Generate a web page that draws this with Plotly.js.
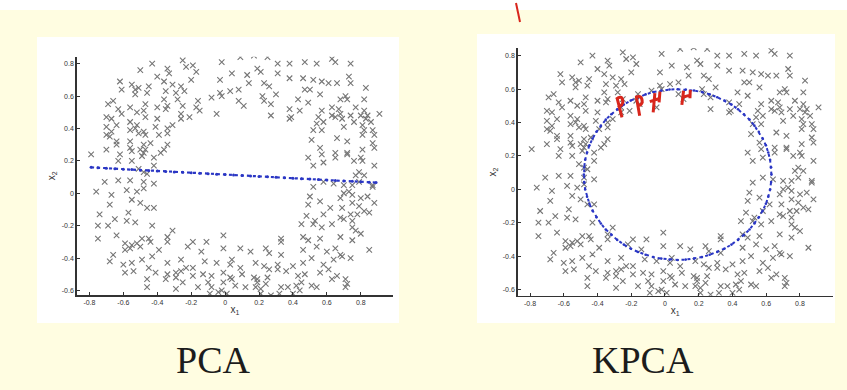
<!DOCTYPE html>
<html>
<head>
<meta charset="utf-8">
<script src="https://cdn.plot.ly/plotly-3.0.1.min.js"></script>
<style>html,body{margin:0;padding:0;background:#FFFDE1;}#chart{width:847px;height:390px;}</style>
</head>
<body>
<div id="chart"></div>
<script>
// Gray "x" data points (same data set in both panels)
const grayX = [
0.09,0.17,0.25,0.63,0.65,-0.25,-0.02,0.31,0.38,0.47,
0.54,0.74,-0.43,-0.19,-0.23,0.19,0.21,-0.34,-0.33,-0.17,
-0.50,0.31,0.04,0.13,0.73,-0.40,-0.36,-0.20,-0.03,0.38,
0.46,0.52,0.57,0.61,-0.62,-0.55,-0.45,-0.31,-0.26,-0.61,
-0.53,-0.51,0.14,0.23,0.26,0.47,0.50,0.66,0.74,0.83,
-0.53,-0.46,-0.35,-0.29,-0.24,-0.03,0.03,0.08,0.30,0.43,
0.56,0.72,0.82,-0.36,-0.28,-0.16,-0.08,-0.02,0.08,0.23,
0.27,0.49,0.68,0.71,-0.69,-0.66,-0.63,-0.56,-0.47,-0.40,
-0.34,-0.25,-0.17,0.11,0.22,0.38,0.44,0.57,0.63,0.67,
0.77,0.82,-0.70,-0.61,-0.67,-0.52,-0.48,-0.35,-0.21,-0.26,
-0.15,-0.05,0.27,0.39,0.55,0.63,0.68,0.74,0.80,0.91,
-0.70,-0.64,-0.56,-0.53,-0.47,-0.40,-0.31,-0.26,0.38,0.54,
0.58,0.65,0.69,0.76,0.83,0.84,0.86,-0.67,-0.68,-0.56,
-0.52,-0.48,-0.41,-0.34,0.52,0.57,0.70,0.81,0.87,0.82,
-0.70,-0.64,-0.56,-0.51,-0.47,-0.39,-0.34,0.51,0.66,0.72,
0.81,0.88,0.87,-0.64,-0.56,-0.50,-0.48,-0.44,-0.36,-0.34,
0.56,0.65,0.72,0.81,-0.79,-0.70,-0.62,-0.55,-0.48,-0.47,
-0.38,0.49,0.57,0.65,0.72,0.80,0.88,-0.63,-0.55,-0.49,
-0.42,0.52,0.58,0.76,0.81,0.88,-0.51,-0.42,-0.48,-0.46,
0.79,0.77,0.58,0.64,0.70,0.75,0.87,0.82,0.79,-0.71,
-0.63,-0.56,-0.48,-0.42,-0.76,-0.67,-0.58,-0.52,-0.48,0.75,
0.80,0.84,0.87,0.52,0.50,0.70,0.68,0.73,-0.68,-0.55,
-0.50,-0.46,-0.42,-0.57,-0.74,-0.75,-0.69,-0.65,-0.58,-0.53,
-0.43,-0.31,0.49,0.56,0.62,0.69,0.75,0.79,0.88,0.85,
0.74,0.78,0.82,0.68,0.75,0.58,0.48,0.53,-0.75,-0.64,
-0.59,-0.56,-0.52,-0.49,-0.45,-0.34,0.45,0.52,0.57,0.63,
0.70,0.75,0.80,0.68,0.75,0.77,0.56,0.46,0.49,-0.66,
-0.59,-0.55,-0.50,-0.44,-0.39,-0.34,-0.22,-0.19,-0.11,-0.14,
-0.01,-0.01,0.04,0.09,0.15,0.24,0.26,0.33,0.33,0.33,
0.46,0.54,0.60,0.65,0.69,0.74,0.85,-0.68,-0.60,-0.55,
-0.49,-0.43,-0.34,-0.26,-0.19,-0.12,-0.05,0.03,0.09,0.18,
0.23,0.26,0.31,0.40,0.46,0.51,0.58,0.64,0.68,-0.59,
-0.54,-0.45,-0.41,-0.34,-0.29,-0.26,-0.23,-0.19,-0.13,-0.08,
-0.01,0.03,0.10,0.17,0.19,0.25,0.31,0.36,0.43,0.47,
0.56,0.61,0.66,0.71,0.72,-0.46,-0.35,-0.29,-0.25,-0.10,
-0.01,0.04,0.19,0.24,0.45,-0.46,-0.29,-0.16,-0.08,-0.02,
0.06,0.12,0.18,0.21,0.33,0.37,0.42,0.51,0.54,0.63,
0.71,-0.09,-0.04,0.01,0.21,0.27,0.32,0.40,0.44
];
const grayY = [
0.84,0.85,0.84,0.83,0.81,0.82,0.81,0.80,0.80,0.81,
0.80,0.80,0.80,0.79,0.78,0.77,0.75,0.77,0.74,0.75,
0.76,0.74,0.74,0.73,0.72,0.72,0.69,0.70,0.70,0.71,
0.71,0.70,0.69,0.68,0.69,0.67,0.66,0.67,0.66,0.64,
0.64,0.65,0.68,0.68,0.66,0.64,0.64,0.68,0.68,0.65,
0.61,0.62,0.63,0.62,0.63,0.62,0.63,0.64,0.61,0.58,
0.61,0.58,0.58,0.58,0.58,0.57,0.59,0.60,0.57,0.57,
0.55,0.56,0.58,0.60,0.55,0.57,0.52,0.53,0.55,0.53,
0.54,0.54,0.53,0.54,0.60,0.52,0.51,0.51,0.53,0.52,
0.53,0.51,0.47,0.49,0.46,0.50,0.51,0.52,0.47,0.49,
0.51,0.49,0.48,0.47,0.47,0.48,0.49,0.48,0.48,0.49,
0.41,0.42,0.44,0.40,0.47,0.46,0.42,0.46,0.46,0.43,
0.44,0.47,0.46,0.44,0.46,0.48,0.44,0.38,0.35,0.39,
0.42,0.38,0.41,0.40,0.39,0.39,0.41,0.42,0.39,0.39,
0.36,0.32,0.32,0.37,0.36,0.36,0.37,0.33,0.34,0.32,
0.36,0.36,0.31,0.30,0.28,0.27,0.30,0.31,0.27,0.30,
0.28,0.25,0.25,0.27,0.24,0.27,0.24,0.26,0.25,0.27,
0.25,0.22,0.24,0.22,0.24,0.22,0.28,0.20,0.20,0.23,
0.22,0.17,0.19,0.20,0.20,0.17,0.15,0.17,0.13,0.12,
0.13,0.11,0.07,0.06,0.05,0.05,0.05,0.11,0.07,0.07,
0.08,0.08,0.07,0.06,0.01,-0.01,0.02,0.01,0.03,-0.01,
-0.03,-0.02,0.04,0.04,-0.02,0.00,-0.03,0.01,-0.07,-0.04,
-0.06,-0.09,-0.09,-0.12,-0.13,-0.20,-0.20,-0.16,-0.17,-0.18,
-0.20,-0.23,-0.07,-0.05,-0.09,-0.09,-0.06,-0.08,-0.06,-0.12,
-0.13,-0.13,-0.11,-0.15,-0.17,-0.13,-0.14,-0.17,-0.28,-0.26,
-0.31,-0.34,-0.31,-0.28,-0.28,-0.27,-0.19,-0.19,-0.21,-0.19,
-0.16,-0.21,-0.25,-0.27,-0.29,-0.23,-0.28,-0.27,-0.29,-0.38,
-0.35,-0.32,-0.33,-0.30,-0.35,-0.30,-0.33,-0.30,-0.30,-0.36,
-0.26,-0.34,-0.41,-0.34,-0.36,-0.34,-0.37,-0.28,-0.30,-0.38,
-0.35,-0.33,-0.36,-0.34,-0.39,-0.40,-0.35,-0.42,-0.44,-0.43,
-0.41,-0.39,-0.43,-0.41,-0.46,-0.42,-0.43,-0.44,-0.46,-0.43,
-0.45,-0.47,-0.44,-0.45,-0.43,-0.40,-0.44,-0.41,-0.38,-0.49,
-0.48,-0.46,-0.49,-0.50,-0.49,-0.48,-0.46,-0.51,-0.50,-0.51,
-0.49,-0.52,-0.50,-0.52,-0.53,-0.52,-0.47,-0.48,-0.51,-0.50,
-0.49,-0.47,-0.51,-0.53,-0.56,-0.53,-0.53,-0.52,-0.55,-0.55,
-0.55,-0.53,-0.55,-0.56,-0.55,-0.58,-0.59,-0.58,-0.58,-0.60,
-0.57,-0.58,-0.58,-0.59,-0.58,-0.58,-0.57,-0.57,-0.58,-0.53,
-0.58,-0.62,-0.61,-0.62,-0.62,-0.63,-0.62,-0.62,-0.60
];

// PCA projection (blue points along first principal direction)
const pcaX = [-0.79,-0.75,-0.70,-0.65,-0.60,-0.55,-0.50,-0.45,-0.40,-0.35,-0.30,-0.25,-0.20,-0.15,-0.10,-0.05,0,0.05,0.10,0.15,0.20,0.25,0.30,0.35,0.40,0.45,0.50,0.55,0.60,0.65,0.70,0.75,0.80,0.85,0.89];
const pcaY = [0.160,0.157,0.155,0.152,0.149,0.146,0.143,0.141,0.138,0.135,0.132,0.129,0.127,0.124,0.121,0.118,0.116,0.113,0.110,0.107,0.104,0.102,0.099,0.096,0.093,0.090,0.088,0.085,0.082,0.079,0.076,0.074,0.071,0.068,0.066];

// KPCA pre-images (blue points on the closed curve)
const kpcaX = [0.631,0.629,0.623,0.612,0.598,0.579,0.556,0.530,0.501,0.468,0.433,0.394,0.353,0.310,0.265,0.219,0.172,0.123,0.075,
0.027,-0.022,-0.069,-0.115,-0.160,-0.203,-0.244,-0.283,-0.318,-0.351,-0.380,-0.406,-0.429,-0.448,-0.462,-0.473,-0.479,-0.481,
-0.479,-0.473,-0.462,-0.448,-0.429,-0.406,-0.380,-0.351,-0.318,-0.283,-0.244,-0.203,-0.160,-0.115,-0.069,-0.022,0.027,0.075,
0.123,0.172,0.219,0.265,0.310,0.353,0.394,0.433,0.468,0.501,0.530,0.556,0.579,0.598,0.612,0.623,0.629];
const kpcaY = [0.088,0.132,0.177,0.220,0.263,0.304,0.344,0.381,0.417,0.449,0.479,0.507,0.531,0.551,0.568,0.582,0.591,0.597,0.599,
0.597,0.591,0.582,0.568,0.551,0.531,0.507,0.479,0.449,0.417,0.381,0.344,0.304,0.263,0.220,0.177,0.132,0.088,
0.044,-0.001,-0.044,-0.087,-0.128,-0.168,-0.205,-0.241,-0.273,-0.303,-0.331,-0.355,-0.375,-0.392,-0.406,-0.415,-0.421,-0.423,
-0.421,-0.415,-0.406,-0.392,-0.375,-0.355,-0.331,-0.303,-0.273,-0.241,-0.205,-0.168,-0.128,-0.087,-0.044,-0.001,0.044];

const xTickVals = [-0.8,-0.6,-0.4,-0.2,0,0.2,0.4,0.6,0.8];
const xTickText = ['-0.8','-0.6','-0.4','-0.2','0','0.2','0.4','0.6','0.8'];
const yTickVals = [-0.6,-0.4,-0.2,0,0.2,0.4,0.6,0.8];
const yTickText = ['-0.6','-0.4','-0.2','0','0.2','0.4','0.6','0.8'];
const panelTitles = ['PCA','KPCA'];
const xLabel = 'x<sub>1</sub>';
const yLabel = 'x<sub>2</sub>';

const W = 847, H = 390;
const px = v => v / W;
const py = v => 1 - v / H;

const grayMarker = {symbol:'x-thin-open', size:5.5, line:{width:1.1, color:'#767676'}, color:'#767676'};
const blue = '#2a36c4';

const traces = [
  {type:'scatter', mode:'markers', x:grayX, y:grayY, xaxis:'x', yaxis:'y', marker:grayMarker, hoverinfo:'skip'},
  {type:'scatter', mode:'lines+markers', x:pcaX, y:pcaY, xaxis:'x', yaxis:'y',
   line:{color:blue, width:2.2, dash:'dot'}, marker:{color:blue, size:3}},
  {type:'scatter', mode:'markers', x:grayX, y:grayY, xaxis:'x2', yaxis:'y2', marker:grayMarker, hoverinfo:'skip'},
  {type:'scatter', mode:'lines+markers', x:kpcaX, y:kpcaY, xaxis:'x2', yaxis:'y2',
   line:{color:blue, width:2, dash:'dot'}, marker:{color:blue, size:2.6}}
];

function xAx(domain, range, anchor){
  return {domain:domain, range:range, anchor:anchor, showline:true, linecolor:'#333', linewidth:1.5,
    ticks:'inside', ticklen:3, tickwidth:1, tickcolor:'#333', tickvals:xTickVals, ticktext:xTickText,
    tickfont:{size:7, color:'#333', family:'Liberation Sans'}, showgrid:false, zeroline:false, mirror:false,
    title:{text:xLabel, font:{size:10, color:'#333', family:'Liberation Sans'}, standoff:1}};
}
function yAx(domain, range, anchor){
  return {domain:domain, range:range, anchor:anchor, showline:true, linecolor:'#333', linewidth:1.5,
    ticks:'inside', ticklen:3, tickwidth:1, tickcolor:'#333', tickvals:yTickVals, ticktext:yTickText,
    tickfont:{size:7, color:'#333', family:'Liberation Sans'}, showgrid:false, zeroline:false, mirror:false,
    title:{text:yLabel, font:{size:10, color:'#333', family:'Liberation Sans'}, standoff:4}};
}

const red = '#d8261c';
const layout = {
  width:W, height:H, autosize:false,
  margin:{l:0, r:0, t:0, b:0},
  paper_bgcolor:'#FFFDE1', plot_bgcolor:'rgba(0,0,0,0)',
  showlegend:false,
  xaxis: xAx([px(76.7), px(393)], [-0.875, 0.99], 'y'),
  yaxis: yAx([py(295), py(56.7)], [-0.628, 0.843], 'x'),
  xaxis2: xAx([px(517.7), px(832.7)], [-0.873, 0.994], 'y2'),
  yaxis2: yAx([py(295.7), py(48.3)], [-0.637, 0.844], 'x2'),
  shapes: [
    {type:'rect', xref:'paper', yref:'paper', x0:0, x1:1, y0:py(10), y1:1, fillcolor:'#ffffff', line:{width:0}, layer:'below'},
    {type:'rect', xref:'paper', yref:'paper', x0:px(37), x1:px(399), y0:py(323), y1:py(37), fillcolor:'#ffffff', line:{width:0}, layer:'below'},
    {type:'rect', xref:'paper', yref:'paper', x0:px(477), x1:px(835), y0:py(323), y1:py(34), fillcolor:'#ffffff', line:{width:0}, layer:'below'},
    {type:'line', xref:'paper', yref:'paper', x0:px(516), y0:py(3), x1:px(520), y1:py(22), line:{color:red, width:2}},
    {type:'path', xref:'x2', yref:'y2', line:{color:red, width:3},
     path:'M -0.285,0.55 L -0.255,0.43 M -0.29,0.54 Q -0.25,0.57 -0.25,0.52 Q -0.26,0.49 -0.28,0.50'},
    {type:'path', xref:'x2', yref:'y2', line:{color:red, width:3},
     path:'M -0.17,0.555 L -0.15,0.44 M -0.175,0.55 Q -0.135,0.57 -0.135,0.52 Q -0.145,0.495 -0.165,0.505'},
    {type:'path', xref:'x2', yref:'y2', line:{color:red, width:3},
     path:'M -0.06,0.575 L -0.07,0.46 M -0.09,0.525 L -0.03,0.545 M -0.03,0.585 L -0.035,0.52'},
    {type:'path', xref:'x2', yref:'y2', line:{color:red, width:3},
     path:'M 0.11,0.59 L 0.10,0.505 M 0.10,0.55 L 0.155,0.565 M 0.15,0.595 L 0.148,0.545'}
  ],
  annotations: [
    {xref:'paper', yref:'paper', x:px(213), y:py(360), text:panelTitles[0], showarrow:false,
     xanchor:'center', yanchor:'middle', font:{family:'Liberation Serif', size:38, color:'#1c1c1c'}},
    {xref:'paper', yref:'paper', x:px(643), y:py(360), text:panelTitles[1], showarrow:false,
     xanchor:'center', yanchor:'middle', font:{family:'Liberation Serif', size:38, color:'#1c1c1c'}}
  ]
};

Plotly.newPlot('chart', traces, layout, {displayModeBar:false, staticPlot:true});
</script>
</body>
</html>
